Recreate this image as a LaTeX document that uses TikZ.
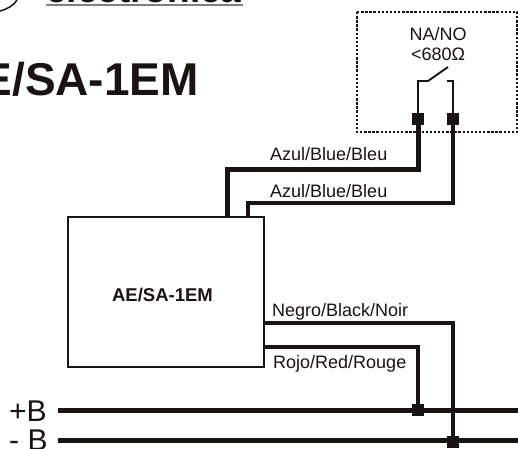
\documentclass[tikz,border=0pt]{standalone}
\usepackage{fontspec}
\setmainfont{Liberation Sans}
\usepackage{xcolor}
\usetikzlibrary{positioning}
\definecolor{inkblack}{HTML}{1A1311}
\begin{document}
\begin{tikzpicture}[
    x=1pt, y=-1pt,
    wire/.style={draw=inkblack, line width=4.5pt, line join=miter},
    thinwire/.style={draw=inkblack, line width=1.9pt, line join=miter},
    terminal/.style={rectangle, fill=inkblack, minimum width=12pt, minimum height=12pt, inner sep=0pt},
    wirelabel/.style={font=\fontsize{18}{20}\selectfont, text=inkblack, inner sep=0pt, anchor=base west},
    buslabel/.style={font=\fontsize{30}{32}\selectfont, text=inkblack, inner sep=0pt, anchor=base west},
    modulebox/.style={rectangle, draw=inkblack, line width=2pt, fill=white, minimum width=196pt, minimum height=150pt, inner sep=0pt}
]
    \clip (0,0) rectangle (518,448);
    \fill[white] (0,0) rectangle (518,448);

    % Logo remains
    \draw[inkblack, line width=1.5pt] (0,11) .. controls (8,9) and (14,5) .. (17,0);
    \node[font=\bfseries\fontsize{37}{40}\selectfont, text=inkblack, inner sep=0pt, anchor=base west] (logo) at (46,2.5) {electrónica};
    \draw[gray, line width=1.5pt] (46,5) -- (243,5);

    % Title
    \node[font=\bfseries\fontsize{46}{50}\selectfont, text=inkblack, inner sep=0pt, anchor=base east] (title) at (199,95) {E/SA-1EM};

    % Remote contact
    \draw[inkblack, line width=2.4pt, dash pattern=on 2.4pt off 1.7pt] (357,12) rectangle (517,132);
    \node[font=\fontsize{18}{20}\selectfont, text=inkblack, inner sep=0pt, align=center] (contact) at (438,44) {NA/NO\\<680Ω};
    \node[terminal] (ta) at (418,119) {};
    \node[terminal] (tb) at (453,119) {};
    \coordinate (sa) at (428,81);
    \coordinate (sb) at (447,81);
    \draw[thinwire] (ta.north) |- (sa) -- (448,67);
    \draw[thinwire] (tb.north) |- (sb);

    % Module
    \node[modulebox] (module) at (166,292) {};
    \node[font=\bfseries\fontsize{18.5}{20}\selectfont, text=inkblack, inner sep=0pt] (modname) at (162.5,295) {AE/SA-1EM};

    % Bus lines
    \node[buslabel] (plusb) at (9,421) {+B};
    \node[buslabel] (minusb) at (9,450) {- B};
    \coordinate (pbw) at (58,410.5);
    \coordinate (pbe) at (518,410.5);
    \coordinate (mbw) at (58,440);
    \coordinate (mbe) at (518,440);
    \draw[wire, line width=5pt] (pbw) -- (pbe);
    \draw[wire, line width=5pt] (mbw) -- (mbe);
    \node[terminal] (tplus) at (418,410) {};
    \node[terminal] (tminus) at (453,442) {};

    % Wires
    \draw[wire, line width=5pt] (ta.south) |- (227,169) -- (227,217);
    \draw[wire] (tb.south) |- (248,203) -- (248,217);
    \draw[wire] (264,323) -| (tminus.north);
    \draw[wire] (264,347) -| (tplus.north);

    % Labels
    \node[wirelabel] (la) at (270,160) {Azul/Blue/Bleu};
    \node[wirelabel] (lb) at (270,197) {Azul/Blue/Bleu};
    \node[wirelabel] (lc) at (272,316) {Negro/Black/Noir};
    \node[wirelabel] (ld) at (273,368) {Rojo/Red/Rouge};
\end{tikzpicture}
\end{document}
